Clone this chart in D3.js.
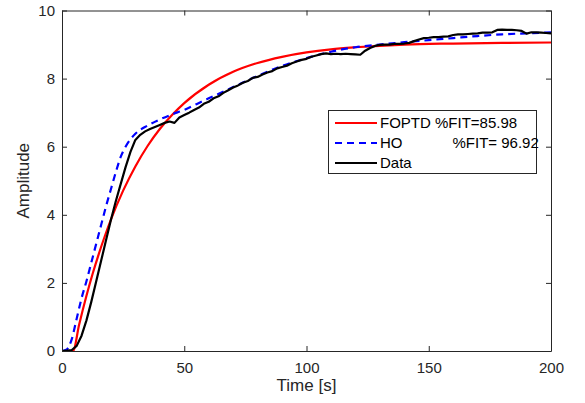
<!DOCTYPE html>
<html>
<head>
<meta charset="utf-8">
<script src="https://cdn.jsdelivr.net/npm/d3@7"></script>
<style>
  body { margin: 0; background: #fff; }
  svg { display: block; font-family: "Liberation Sans", Arial, Helvetica, sans-serif; }
</style>
</head>
<body>
<div id="chart"></div>
<script>
// values
var xTicks = [0, 50, 100, 150, 200];
var yTicks = [0, 2, 4, 6, 8, 10];

// FOPTD model response (red)
var foptdTime = [0, 4.5, 7, 10, 12.5, 15, 17.5, 20, 25, 30, 35, 40, 45, 50, 60, 70, 80, 90, 100, 110, 120, 140, 160, 180, 200];
var foptdAmp  = [0, 0, 0.77, 1.62, 2.26, 2.84, 3.37, 3.86, 4.71, 5.42, 6.02, 6.52, 6.93, 7.28, 7.82, 8.20, 8.46, 8.64, 8.77, 8.86, 8.92, 9.00, 9.03, 9.05, 9.06];

// HO model response (blue dashed)
var hoTime = [0, 2, 4, 6, 8, 10, 12, 14, 16, 18, 20, 22, 24, 26, 28, 30, 35, 40, 45, 50, 55, 60, 70, 80, 90, 100, 110, 120, 130, 140, 150, 160, 170, 180, 190, 200];
var hoAmp  = [0, 0.05, 0.35, 0.95, 1.55, 2.05, 2.6, 3.15, 3.7, 4.25, 4.75, 5.25, 5.7, 6.0, 6.22, 6.38, 6.62, 6.8, 6.95, 7.08, 7.25, 7.42, 7.75, 8.08, 8.37, 8.6, 8.79, 8.92, 9.0, 9.07, 9.13, 9.19, 9.25, 9.3, 9.33, 9.36];

// measured data (black), every 2 s
var dataTime = d3.range(0, 201, 2);
var dataAmp = [
  0, 0.01, 0.03, 0.15, 0.45, 0.9, 1.45, 2.05, 2.65, 3.25,
  3.85, 4.4, 4.9, 5.4, 5.85, 6.2, 6.35, 6.45, 6.52, 6.58,
  6.64, 6.7, 6.74, 6.7, 6.86, 6.93, 7.0, 7.08, 7.15, 7.26,
  7.32, 7.42, 7.48, 7.58, 7.66, 7.74, 7.8, 7.88, 7.93, 8.02,
  8.05, 8.12, 8.18, 8.22, 8.3, 8.34, 8.38, 8.45, 8.5, 8.55,
  8.58, 8.64, 8.68, 8.72, 8.74, 8.72, 8.73, 8.72, 8.73, 8.72,
  8.71, 8.7, 8.82, 8.9, 8.96, 8.99, 9.0, 9.0, 9.02, 9.02,
  9.03, 9.05, 9.1, 9.15, 9.19, 9.2, 9.22, 9.22, 9.23, 9.24,
  9.28, 9.3, 9.3, 9.31, 9.32, 9.33, 9.35, 9.35, 9.36, 9.43,
  9.44, 9.43, 9.43, 9.42, 9.4, 9.32, 9.36, 9.36, 9.35, 9.34,
  9.33
];

var legendLabels = ["FOPTD %FIT=85.98", "HO            %FIT= 96.92", "Data"];

// svg size and plot box
var svgWidth = 585;
var svgHeight = 403;
var plot = { left: 62, top: 10.5, right: 551, bottom: 351 };
var axisColor = "#262626";

var svg = d3.select("#chart")
    .append("svg")
    .attr("width", svgWidth)
    .attr("height", svgHeight);

var xScale = d3.scaleLinear()
    .domain([0, 200])
    .range([plot.left, plot.right]);

var yScale = d3.scaleLinear()
    .domain([0, 10])
    .range([plot.bottom, plot.top]);

// clip lines to the axes box
svg.append("clipPath")
    .attr("id", "clip")
    .append("rect")
    .attr("x", plot.left)
    .attr("y", plot.top)
    .attr("width", plot.right - plot.left)
    .attr("height", plot.bottom - plot.top);

var lineGen = d3.line()
    .x(d => xScale(d[0]))
    .y(d => yScale(d[1]));

var lines = svg.append("g").attr("clip-path", "url(#clip)");

lines.append("path")
    .datum(d3.zip(foptdTime, foptdAmp))
    .attr("d", lineGen.curve(d3.curveMonotoneX))
    .attr("fill", "none")
    .attr("stroke", "#ff0000")
    .attr("stroke-width", 2.2);

lines.append("path")
    .datum(d3.zip(hoTime, hoAmp))
    .attr("d", lineGen.curve(d3.curveMonotoneX))
    .attr("fill", "none")
    .attr("stroke", "#0000ff")
    .attr("stroke-width", 2.2)
    .attr("stroke-dasharray", "7,5");

lines.append("path")
    .datum(d3.zip(dataTime, dataAmp))
    .attr("d", lineGen.curve(d3.curveLinear))
    .attr("fill", "none")
    .attr("stroke", "#000000")
    .attr("stroke-width", 2.2)
    .attr("stroke-linejoin", "round");

// axes, ticks pointing inwards on all four sides
var bottomAxis = d3.axisBottom(xScale).tickValues(xTicks).tickSizeInner(-5).tickSizeOuter(0).tickPadding(11);
var leftAxis = d3.axisLeft(yScale).tickValues(yTicks).tickSizeInner(-5).tickSizeOuter(0).tickPadding(7);
var topAxis = d3.axisTop(xScale).tickValues(xTicks).tickSizeInner(-5).tickSizeOuter(0).tickFormat("");
var rightAxis = d3.axisRight(yScale).tickValues(yTicks).tickSizeInner(-5).tickSizeOuter(0).tickFormat("");

function styleAxis(g) {
    g.selectAll("path, line").attr("stroke", axisColor);
    g.selectAll("text")
        .attr("fill", axisColor)
        .attr("font-size", "15px")
        .attr("font-family", "Liberation Sans, Arial, sans-serif");
}

svg.append("g").attr("transform", `translate(0, ${plot.bottom})`).call(bottomAxis).call(styleAxis);
svg.append("g").attr("transform", `translate(${plot.left}, 0)`).call(leftAxis).call(styleAxis);
svg.append("g").attr("transform", `translate(0, ${plot.top})`).call(topAxis).call(styleAxis);
svg.append("g").attr("transform", `translate(${plot.right}, 0)`).call(rightAxis).call(styleAxis);

// axis labels
svg.append("text")
    .attr("x", (plot.left + plot.right) / 2)
    .attr("y", 391)
    .attr("text-anchor", "middle")
    .attr("font-size", "17px")
    .attr("fill", axisColor)
    .text("Time [s]");

svg.append("text")
    .attr("transform", `translate(29, ${(plot.top + plot.bottom) / 2}) rotate(-90)`)
    .attr("text-anchor", "middle")
    .attr("font-size", "17px")
    .attr("fill", axisColor)
    .text("Amplitude");

// legend
var legend = svg.append("g");
legend.append("rect")
    .attr("x", 328.5)
    .attr("y", 110.5)
    .attr("width", 208)
    .attr("height", 63)
    .attr("fill", "#fff")
    .attr("stroke", axisColor)
    .attr("stroke-width", 1);

var legendStyles = [
    { color: "#ff0000", dash: null },
    { color: "#0000ff", dash: "7,5" },
    { color: "#000000", dash: null }
];

legendLabels.forEach(function(label, i) {
    var yRow = 123 + i * 20;
    legend.append("line")
        .attr("x1", 335)
        .attr("x2", 377)
        .attr("y1", yRow)
        .attr("y2", yRow)
        .attr("stroke", legendStyles[i].color)
        .attr("stroke-width", 2.2)
        .attr("stroke-dasharray", legendStyles[i].dash);
    legend.append("text")
        .attr("x", 380)
        .attr("y", yRow)
        .attr("dy", "0.35em")
        .attr("font-size", "15px")
        .attr("fill", "#000")
        .style("white-space", "pre")
        .text(label);
});
</script>
</body>
</html>
